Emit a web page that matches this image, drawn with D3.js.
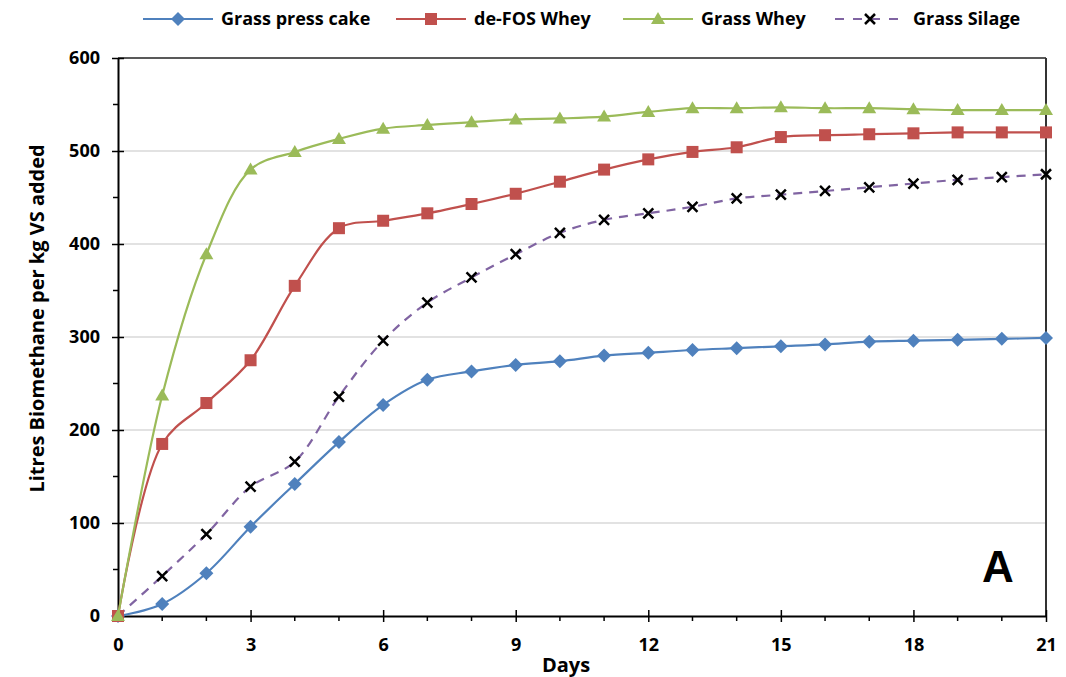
<!DOCTYPE html>
<html>
<head>
<meta charset="utf-8">
<script src="https://cdn.jsdelivr.net/npm/d3@7"></script>
<style>
  body { margin: 0; background: #fff; }
  text { font-family: "Open Sans", Lato, sans-serif; font-weight: bold; }
</style>
</head>
<body>
<div id="chart"></div>
<script>
// Data
var days = d3.range(0, 22)
var pressCake = [0, 13, 46, 96, 142, 187, 227, 254, 263, 270, 274, 280, 283, 286, 288, 290, 292, 295, 296, 297, 298, 299]
var defosWhey = [0, 185, 229, 275, 355, 417, 425, 433, 443, 454, 467, 480, 491, 499, 504, 515, 517, 518, 519, 520, 520, 520]
var grassWhey = [0, 237, 389, 480, 499, 513, 524, 528, 531, 534, 535, 537, 542, 546, 546, 547, 546, 546, 545, 544, 544, 544]
var grassSilage = [0, 43, 88, 139, 166, 236, 296, 337, 364, 389, 412, 426, 433, 440, 449, 453, 457, 461, 465, 469, 472, 475]
var seriesNames = ['Grass press cake', 'de-FOS Whey', 'Grass Whey', 'Grass Silage']
var xTicks = [0, 3, 6, 9, 12, 15, 18, 21]
var yTicks = [0, 100, 200, 300, 400, 500, 600]

var series = [
  { name: seriesNames[0], values: pressCake, color: '#4F81BD', marker: 'diamond', dash: null },
  { name: seriesNames[1], values: defosWhey, color: '#C0504D', marker: 'square', dash: null },
  { name: seriesNames[2], values: grassWhey, color: '#9BBB59', marker: 'triangle', dash: null },
  { name: seriesNames[3], values: grassSilage, color: '#8064A2', marker: 'x', dash: '9,7' }
]

var W = 1066, H = 677
var margin = { top: 58, left: 118, right: 20, bottom: 61 }
var width = W - margin.left - margin.right
var height = H - margin.top - margin.bottom

var svg = d3.select('#chart').append('svg')
  .attr('width', W).attr('height', H)

var g = svg.append('g')
  .attr('transform', `translate(${margin.left},${margin.top})`)

var x = d3.scaleLinear().domain([0, 21]).range([0, 928])
var y = d3.scaleLinear().domain([0, 600]).range([height, 0])

// gridlines
g.selectAll('.grid')
  .data(yTicks.filter(d => d > 0 && d < 600))
  .enter().append('line')
  .attr('x1', 0).attr('x2', x(21))
  .attr('y1', d => y(d)).attr('y2', d => y(d))
  .attr('stroke', '#d9d9d9').attr('stroke-width', 1.5)

// frame top / right
g.append('line').attr('x1', 0).attr('x2', x(21)).attr('y1', y(600)).attr('y2', y(600))
  .attr('stroke', '#222').attr('stroke-width', 1.5)
g.append('line').attr('x1', x(21)).attr('x2', x(21)).attr('y1', y(600)).attr('y2', y(0))
  .attr('stroke', '#333').attr('stroke-width', 2)

// minor ticks
g.selectAll('.ymin').data(d3.range(50, 600, 100)).enter().append('line')
  .attr('x1', -5).attr('x2', 0).attr('y1', d => y(d)).attr('y2', d => y(d))
  .attr('stroke', '#000').attr('stroke-width', 1.5)
g.selectAll('.xmin').data(days.filter(d => d % 3 !== 0)).enter().append('line')
  .attr('x1', d => x(d)).attr('x2', d => x(d)).attr('y1', height).attr('y2', height + 5)
  .attr('stroke', '#000').attr('stroke-width', 1.5)

// axes
var yAxis = d3.axisLeft(y).tickValues(yTicks).tickSizeInner(6).tickSizeOuter(0).tickPadding(12)
var yg = g.append('g').attr('class', 'axis y-axis').call(yAxis)
yg.select('.domain').attr('stroke', '#000').attr('stroke-width', 2)
yg.selectAll('.tick line').attr('x2', 6).attr('x1', -6).attr('stroke-width', 1.5)
yg.selectAll('.tick text').style('font-size', '18px').attr('fill', '#000')

var xAxis = d3.axisBottom(x).tickValues(xTicks).tickSizeOuter(0).tickPadding(10)
var xg = g.append('g').attr('class', 'axis x-axis')
  .attr('transform', `translate(0,${height})`).call(xAxis)
xg.select('.domain').attr('stroke', '#000').attr('stroke-width', 2)
xg.selectAll('.tick line').attr('y1', -6).attr('y2', 6).attr('stroke-width', 1.5)
xg.selectAll('.tick text').style('font-size', '18px').attr('fill', '#000')
  .attr('y', 35).attr('dy', null)

// axis titles
g.append('text')
  .attr('x', 448).attr('y', height + 56)
  .attr('text-anchor', 'middle').style('font-size', '20px')
  .text('Days')
g.append('text')
  .attr('transform', `translate(${-81},${y(320)}) rotate(-90)`)
  .attr('text-anchor', 'middle').attr('dy', '0.35em').style('font-size', '20px')
  .text('Litres Biomethane per kg VS added')

// panel letter
g.append('text')
  .attr('x', 880).attr('y', 582 - margin.top)
  .attr('text-anchor', 'middle')
  .style('font-family', 'Arial, "Liberation Sans", sans-serif')
  .style('font-size', '44px')
  .text('A')

var line = d3.line()
  .x((d, i) => x(days[i]))
  .y(d => y(d))
  .curve(d3.curveCatmullRom.alpha(0.5))

function drawMarker(sel, type, color) {
  if (type === 'diamond') {
    sel.append('path').attr('d', 'M0,-7L7,0L0,7L-7,0Z').attr('fill', color)
  } else if (type === 'square') {
    sel.append('rect').attr('x', -6).attr('y', -6).attr('width', 12).attr('height', 12).attr('fill', color)
  } else if (type === 'triangle') {
    sel.append('path').attr('d', 'M0,-7L7,5L-7,5Z').attr('fill', color)
  } else {
    sel.append('path').attr('d', 'M-5,-5L5,5M-5,5L5,-5')
      .attr('stroke', '#000').attr('stroke-width', 2.5).attr('fill', 'none')
  }
}

// draw order: silage, press cake, defos, grass whey
var order = [3, 0, 1, 2]
order.forEach(function(i) {
  var s = series[i]
  g.append('path')
    .datum(s.values)
    .attr('d', line)
    .attr('fill', 'none')
    .attr('stroke', s.color)
    .attr('stroke-width', 2.2)
    .attr('stroke-dasharray', s.dash)

  g.selectAll('.m' + i)
    .data(s.values)
    .enter().append('g')
    .attr('transform', (d, j) => `translate(${x(days[j])},${y(d)})`)
    .each(function() { drawMarker(d3.select(this), s.marker, s.color) })
})

// legend
var legendX = [143, 396, 623, 835]
series.forEach(function(s, i) {
  var lg = svg.append('g').attr('transform', `translate(${legendX[i]},19)`)
  lg.append('line').attr('x1', 0).attr('x2', 70).attr('y1', 0).attr('y2', 0)
    .attr('stroke', s.color).attr('stroke-width', 2.2)
    .attr('stroke-dasharray', s.dash ? '9,9' : null)
  var mk = lg.append('g').attr('transform', 'translate(35,0)')
  drawMarker(mk, s.marker, s.color)
  lg.append('text').attr('x', 78).attr('y', 0).attr('dy', '0.35em')
    .style('font-size', '18px').text(s.name)
})
</script>
</body>
</html>
